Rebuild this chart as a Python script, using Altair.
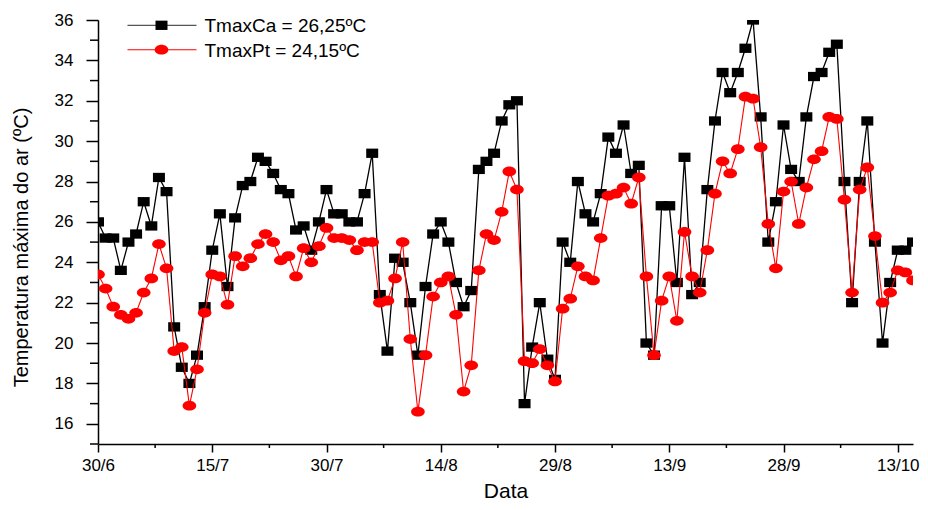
import altair as alt
import pandas as pd

# ---- data (daily values, 30/6 .. 15/10) ----
start_date = "2000-06-30"
tmax_ca = [
    26.0, 25.2, 25.2, 23.6, 25.0, 25.4, 27.0, 25.8, 28.2, 27.5,
    20.8, 18.8, 18.0, 19.4, 21.8, 24.6, 26.4, 22.8, 26.2, 27.8,
    28.0, 29.2, 29.0, 28.4, 27.6, 27.4, 25.6, 25.8, 24.6, 26.0,
    27.6, 26.4, 26.4, 26.0, 26.0, 27.4, 29.4, 22.4, 19.6, 24.2,
    24.0, 22.0, 19.4, 22.8, 25.4, 26.0, 25.0, 23.0, 21.8, 22.6,
    28.6, 29.0, 29.4, 31.0, 31.8, 32.0, 17.0, 19.8, 22.0, 19.2,
    18.2, 25.0, 24.0, 28.0, 26.4, 26.0, 27.4, 30.2, 29.4, 30.8,
    28.4, 28.8, 20.0, 19.4, 26.8, 26.8, 23.0, 29.2, 22.4, 23.0,
    27.6, 31.0, 33.4, 32.4, 33.4, 34.6, 36.0, 31.2, 25.0, 27.0,
    30.8, 28.6, 28.0, 31.2, 33.2, 33.4, 34.4, 34.8, 28.0, 22.0,
    28.0, 31.0, 25.0, 20.0, 23.0, 24.6, 24.6, 25.0,
]
tmax_pt = [
    23.4, 22.7, 21.8, 21.4, 21.2, 21.5, 22.5, 23.2, 24.9, 23.7,
    19.6, 19.8, 16.9, 18.7, 21.5, 23.4, 23.3, 21.9, 24.3, 23.8,
    24.2, 24.9, 25.4, 25.0, 24.1, 24.3, 23.3, 24.7, 24.0, 24.8,
    25.7, 25.2, 25.2, 25.1, 24.6, 25.0, 25.0, 22.0, 22.1, 23.2,
    25.0, 20.2, 16.6, 19.4, 22.3, 23.0, 23.3, 21.4, 17.6, 18.9,
    23.6, 25.4, 25.1, 26.5, 28.5, 27.6, 19.1, 19.0, 19.7, 18.9,
    18.1, 21.7, 22.2, 23.8, 23.3, 23.1, 25.2, 27.3, 27.4, 27.7,
    26.9, 28.2, 23.3, 19.4, 22.1, 23.3, 21.1, 25.5, 23.3, 22.5,
    24.6, 27.4, 29.0, 28.4, 29.6, 32.2, 32.1, 29.7, 25.9, 23.7,
    27.5, 28.0, 25.9, 27.7, 29.1, 29.5, 31.2, 31.1, 27.1, 22.5,
    27.6, 28.7, 25.3, 22.0, 22.5, 23.6, 23.5, 23.1,
]
legend_labels = ["TmaxCa = 26,25ºC", "TmaxPt = 24,15ºC"]
x_tick_labels = ["30/6", "15/7", "30/7", "14/8", "29/8", "13/9", "28/9", "13/10"]
y_major = list(range(16, 37, 2))
y_minor = list(range(15, 37, 2))

dates = pd.date_range(start_date, periods=len(tmax_ca), freq="D")
day = [(d - dates[0]).days for d in dates]
df = pd.DataFrame({"day": day, "ca": tmax_ca, "pt": tmax_pt})

x_major = [15 * i for i in range(len(x_tick_labels))]
x_minor = [15 * i + 7.5 for i in range(len(x_tick_labels) - 1)]
lab_js = "[" + ",".join("'%s'" % s for s in x_tick_labels) + "]"

FONT = "Liberation Sans"
RECT = "M-1.2,-0.93 L1.2,-0.93 L1.2,0.93 L-1.2,0.93 Z"
ELL = "M-1.3,0 A1.3,0.93 0 1,0 1.3,0 A1.3,0.93 0 1,0 -1.3,0 Z"

x_scale = alt.Scale(domain=[0, 107], nice=False, zero=False)
y_scale = alt.Scale(domain=[15, 36], nice=False, zero=False)

x_enc = alt.X(
    "day:Q",
    scale=x_scale,
    axis=alt.Axis(
        values=x_major,
        labelExpr=lab_js + "[round(datum.value / 15)]",
        tickSize=8,
        labelPadding=5,
        labelFlush=False,
        labelOverlap=False,
        title="Data",
        titleFontSize=21,
        titleFontWeight="normal",
        titleBaseline="alphabetic",
        titleY=53,
    ),
)
y_axis = alt.Axis(
    values=y_major,
    tickSize=12,
    labelPadding=13,
    labelFlush=False,
    labelOverlap=False,
    title="Temperatura máxima do ar (ºC)",
    titleFontSize=20,
    titleFontWeight="normal",
    titleBaseline="alphabetic",
    titleAngle=-90,
    titleX=-71,
    titleY=227,
)

base = alt.Chart(df)
ca_line = base.mark_line(color="black", strokeWidth=1.3, clip=True).encode(
    x=x_enc, y=alt.Y("ca:Q", scale=y_scale, axis=y_axis)
)
ca_pts = base.mark_point(shape=RECT, size=100, filled=True, color="black", opacity=1, clip=True).encode(
    x="day:Q", y="ca:Q"
)
pt_line = base.mark_line(color="#ff0000", strokeWidth=1.1, clip=True).encode(
    x="day:Q", y="pt:Q"
)
pt_pts = base.mark_point(shape=ELL, size=110, filled=True, color="#ff0000", opacity=1, clip=True).encode(
    x="day:Q", y="pt:Q"
)

# minor ticks (drawn through the shared scales)
y_minor_ticks = alt.Chart(pd.DataFrame({"ca": y_minor})).mark_rule(
    color="black", strokeWidth=1.5
).encode(y="ca:Q", x=alt.value(-8), x2=alt.value(0))
x_minor_ticks = alt.Chart(pd.DataFrame({"day": x_minor})).mark_rule(
    color="black", strokeWidth=1.5
).encode(x="day:Q", y=alt.value(424), y2=alt.value(428))

# legend (top-left inside the plot)
leg_layers = []
for i, (lab, col, shp, sw) in enumerate(
    zip(legend_labels, ["#555555", "#ff0000"], [RECT, ELL], [1.3, 1.1])
):
    yy = 5.3 + 24.4 * i
    ld = alt.Chart(pd.DataFrame({"label": [lab]}))
    leg_layers.append(
        ld.mark_rule(color=col, strokeWidth=sw).encode(
            x=alt.value(29.5), x2=alt.value(98.5), y=alt.value(yy)
        )
    )
    leg_layers.append(
        ld.mark_point(shape=shp, size=100 if i == 0 else 110, filled=True, opacity=1,
                      color="black" if i == 0 else "#ff0000").encode(
            x=alt.value(63.5), y=alt.value(yy)
        )
    )
    leg_layers.append(
        ld.mark_text(align="left", baseline="middle", fontSize=19, font=FONT, color="black").encode(
            x=alt.value(106.5), y=alt.value(yy + 1), text="label:N"
        )
    )

chart = alt.layer(
    ca_line, ca_pts, pt_line, pt_pts, y_minor_ticks, x_minor_ticks, *leg_layers
).properties(
    width=815,
    height=424,
    autosize=alt.AutoSizeParams(type="none"),
    padding={"left": 90, "top": 12, "right": 7, "bottom": 58},
).configure_view(stroke=None).configure_axis(
    labelFont=FONT,
    titleFont=FONT,
    labelFontSize=17,
    labelColor="black",
    titleColor="black",
    domainColor="black",
    domainWidth=1.5,
    tickColor="black",
    tickWidth=1.5,
    grid=False,
)

chart.save("out.html", embed_options={"renderer": "svg", "actions": False})
